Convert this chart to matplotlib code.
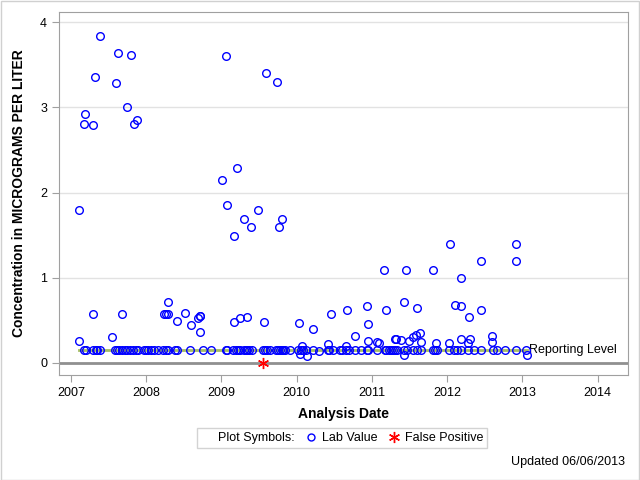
import matplotlib
matplotlib.use("Agg")
from matplotlib import pyplot as plt
from matplotlib.lines import Line2D
from matplotlib.patches import Rectangle

plt.rcParams['font.family'] = ['Liberation Sans', 'DejaVu Sans']

# detected lab values (decimal year, concentration)
lab_dates = [
    2007.38, 2007.63, 2007.80, 2009.06, 2007.32, 2007.60, 2007.74, 2007.19,
    2007.18, 2007.30, 2007.88, 2007.84, 2009.21, 2009.01, 2009.59, 2009.74,
    2007.11, 2009.08, 2009.30, 2009.17, 2009.39, 2009.48, 2009.81, 2009.77,
    2011.16, 2012.04, 2012.92, 2012.45, 2012.92, 2011.45, 2011.81, 2012.18,
    2011.19, 2011.42, 2011.60, 2012.11, 2012.18, 2012.29, 2012.45,
    2011.31, 2011.38, 2011.49, 2011.54, 2011.59, 2011.64, 2011.65, 2011.85,
    2012.02, 2012.18, 2012.30, 2012.28, 2012.60, 2012.59, 2011.42, 2013.06,
    2011.10, 2008.71, 2009.17, 2009.25, 2009.34, 2009.57, 2010.03, 2010.22,
    2010.46, 2010.67, 2010.94, 2010.95, 2010.77, 2010.41, 2010.66, 2010.95,
    2011.07, 2011.32, 2010.07, 2010.04, 2010.14, 2010.30,
    2007.11, 2007.30, 2007.55, 2007.68, 2008.29, 2008.24, 2008.26, 2008.29,
    2008.41, 2008.52, 2008.60, 2008.69, 2008.71, 2008.72,
]
lab_values = [
    3.84, 3.64, 3.62, 3.60, 3.36, 3.29, 3.01, 2.92,
    2.80, 2.79, 2.85, 2.80, 2.29, 2.15, 3.40, 3.30,
    1.80, 1.86, 1.69, 1.49, 1.60, 1.80, 1.69, 1.60,
    1.09, 1.40, 1.40, 1.20, 1.20, 1.09, 1.09, 1.00,
    0.62, 0.71, 0.65, 0.68, 0.67, 0.54, 0.62,
    0.28, 0.27, 0.26, 0.31, 0.33, 0.35, 0.25, 0.24,
    0.24, 0.28, 0.28, 0.24, 0.32, 0.25, 0.09, 0.09,
    0.24, 0.55, 0.48, 0.53, 0.54, 0.48, 0.47, 0.40,
    0.58, 0.62, 0.67, 0.46, 0.32, 0.22, 0.20, 0.26,
    0.25, 0.28, 0.20, 0.11, 0.08, 0.14,
    0.26, 0.58, 0.31, 0.58, 0.72, 0.58, 0.58, 0.58,
    0.49, 0.59, 0.45, 0.53, 0.55, 0.36,
]

# results at the reporting level
rl_dates = [
    2007.18, 2007.20, 2007.29, 2007.33, 2007.35, 2007.39, 2007.58, 2007.61,
    2007.64, 2007.68, 2007.72, 2007.75, 2007.79, 2007.82, 2007.86, 2007.89,
    2007.97, 2008.00, 2008.03, 2008.07, 2008.10, 2008.16, 2008.23, 2008.26,
    2008.29, 2008.38, 2008.41, 2008.58, 2008.76, 2008.86, 2009.06, 2009.08,
    2009.16, 2009.19, 2009.22, 2009.25, 2009.30, 2009.32, 2009.34, 2009.37,
    2009.41, 2009.55, 2009.58, 2009.61, 2009.65, 2009.72, 2009.75, 2009.78,
    2009.80, 2009.82, 2009.85, 2009.91, 2010.02, 2010.06, 2010.08, 2010.12,
    2010.22, 2010.41, 2010.43, 2010.48, 2010.57, 2010.60, 2010.66, 2010.69,
    2010.77, 2010.85, 2010.93, 2010.95, 2011.07, 2011.17, 2011.23, 2011.28,
    2011.33, 2011.19, 2011.25, 2011.31, 2011.42, 2011.47, 2011.54, 2011.60,
    2011.65, 2011.81, 2011.84, 2011.86, 2012.03, 2012.09, 2012.13, 2012.18,
    2012.27, 2012.35, 2012.45, 2012.61, 2012.66, 2012.77, 2012.91, 2013.05,
]
reporting_level = 0.15

fp_dates = [2009.55]
fp_values = [0.0]

years = [2007, 2008, 2009, 2010, 2011, 2012, 2013, 2014]
y_ticks = [0, 1, 2, 3, 4]

fig = plt.figure(figsize=(6.4, 4.8), dpi=100)
ax = fig.add_axes([0.092, 0.219, 0.889, 0.756])

ax.set_xlim(2006.84, 2014.40)
ax.set_ylim(-0.14, 4.12)

ax.set_yticks(y_ticks)
ax.set_xticks(years)
ax.set_xticklabels([str(y) for y in years])
ax.grid(axis='y', color='#e2e2e2', linewidth=1)
ax.set_axisbelow(True)

for s in ax.spines.values():
    s.set_color('#a0a0a0')
ax.tick_params(colors='#a0a0a0', labelcolor='black', labelsize=9, length=5)

ax.axhline(0, color='#909090', linewidth=2, zorder=1)
ax.plot([min(rl_dates + lab_dates), max(rl_dates + lab_dates)],
        [reporting_level, reporting_level], color='#a4bc64', linewidth=2, zorder=1)
ax.text(max(rl_dates + lab_dates) + 0.03, reporting_level, 'Reporting Level',
        va='center', ha='left', fontsize=9)

ax.plot(lab_dates, lab_values, 'o', mfc='none', mec='blue', ms=5.5, mew=1, zorder=3)
ax.plot(rl_dates, [reporting_level] * len(rl_dates), 'o', mfc='none', mec='blue',
        ms=5.5, mew=1, zorder=3)
ax.plot(fp_dates, fp_values, ls='none', marker=(6, 2, 0), color='red', ms=8,
        mew=1, zorder=4)

ax.set_xlabel('Analysis Date', fontsize=10, fontweight='bold', labelpad=6)
ax.set_ylabel('Concentration in MICROGRAMS PER LITER', fontsize=10,
              fontweight='bold', labelpad=10)

handles = [
    Line2D([], [], ls='none'),
    Line2D([], [], ls='none', marker='o', mfc='none', mec='blue', ms=5, mew=1),
    Line2D([], [], ls='none', marker=(6, 2, 0), color='red', ms=8, mew=1),
]
leg = fig.legend(handles, ['Plot Symbols:', 'Lab Value', 'False Positive'],
                 loc='center', bbox_to_anchor=(342 / 640, 1 - 438 / 480),
                 ncol=3, fontsize=9, frameon=True, fancybox=False,
                 handlelength=1.0, handletextpad=0.4, columnspacing=0.8,
                 borderpad=0.3, borderaxespad=0)
leg.get_frame().set_edgecolor('#c8c8c8')
leg.get_frame().set_linewidth(1)

fig.text(625 / 640, 1 - 462 / 480, 'Updated 06/06/2013', ha='right', va='center',
         fontsize=9)

fig.patches.append(Rectangle((0.001, 0.001), 0.997, 0.997, transform=fig.transFigure,
                             fill=False, edgecolor='#d0d0d0', linewidth=1))

fig.savefig('out.png', dpi=100)
